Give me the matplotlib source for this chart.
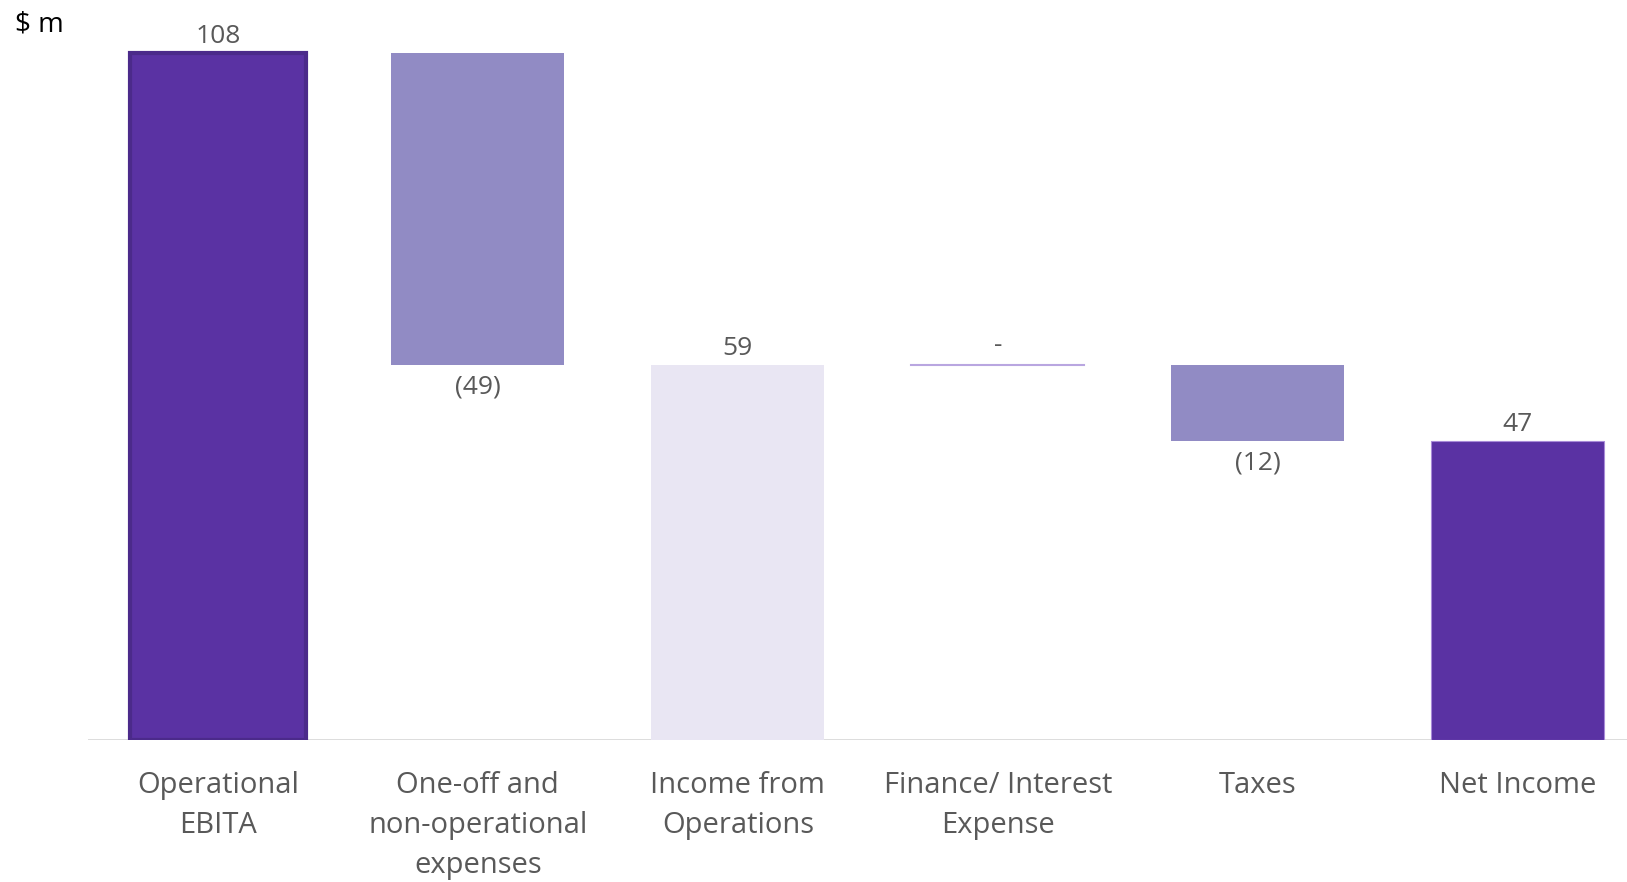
import numpy as np
import matplotlib.pyplot as plt

# Данные водопада
categories = ["Operational\nEBITA", "One-off and\nnon-operational\nexpenses",
              "Income from\nOperations", "Finance/ Interest\nExpense", "Taxes", "Net Income"]
values = [108, -49, 59, 0, -12, 47]
is_total = [True, False, True, False, False, True]

DARK = "#5A32A3"
MID = "#918BC4"
LIGHT = "#E9E6F3"
GREY = "#595959"

plt.rcParams['font.family'] = ['Open Sans', 'DejaVu Sans']

fig = plt.figure(figsize=(16.27, 8.82), dpi=100)
ax = fig.add_axes([0.054, 0.161, 0.946, 0.824])

x = np.arange(len(categories))
running = 0
bottoms, heights, colors = [], [], []
for i, v in enumerate(values):
    if is_total[i]:
        bottoms.append(0)
        heights.append(v)
        running = v
        colors.append(LIGHT if i == 2 else DARK)
    else:
        new = running + v
        bottoms.append(min(running, new))
        heights.append(abs(v))
        running = new
        colors.append(MID)

width = 0.665
for i in range(len(values)):
    if heights[i] == 0:
        ax.plot([x[i] - width / 2, x[i] + width / 2], [bottoms[i], bottoms[i]],
                color="#B9A6E0", lw=1.5, zorder=3)
        continue
    if i == 0:
        ax.bar(x[i], heights[i], bottom=bottoms[i], width=width + 0.01, color=colors[i],
               edgecolor="#4B2A8A", linewidth=3, zorder=3)
    elif colors[i] == DARK:
        ax.bar(x[i], heights[i], bottom=bottoms[i], width=width, color=colors[i],
               edgecolor="#A88BD8", linewidth=0.8, zorder=3)
    else:
        ax.bar(x[i], heights[i], bottom=bottoms[i], width=width, color=colors[i],
               edgecolor="none", zorder=3)

# Подписи значений
running = 0
for i, v in enumerate(values):
    if is_total[i]:
        ax.text(x[i], v + 2.6, str(v), ha="center", va="center", fontsize=19, color=GREY)
        running = v
    elif v == 0:
        ax.text(x[i], running + 3.0, "-", ha="center", va="center", fontsize=19, color=GREY)
    else:
        running = running + v
        ax.text(x[i], running - 3.5, f"({abs(v)})", ha="center", va="center", fontsize=19, color=GREY)

ax.axhline(0, color="#D9D9D9", lw=2, zorder=2)
ax.set_xlim(-0.5, 5.42)
ax.set_ylim(0, 114.3)
ax.set_xticks(x)
ax.set_xticklabels(categories, fontsize=21, color=GREY, linespacing=1.5)
ax.tick_params(axis="x", length=0, pad=22)
ax.set_yticks([])
for s in ax.spines.values():
    s.set_visible(False)

fig.text(0.009, 0.972, "$ m", fontsize=20, color="black", va="center", ha="left")

fig.savefig("out.png", dpi=100)
